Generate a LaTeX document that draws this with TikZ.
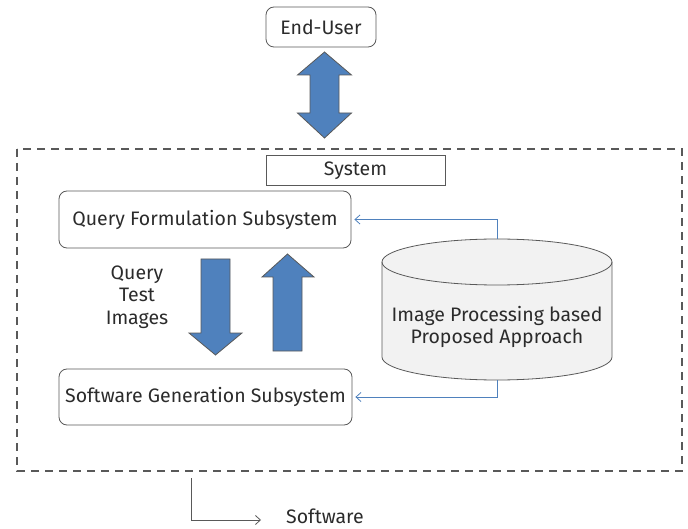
\documentclass[tikz,border=0pt]{standalone}
\usepackage{fontspec}
\setmainfont{Fira Sans}
\usetikzlibrary{arrows.meta}
\definecolor{txt}{HTML}{2B2B2B}
\definecolor{edge}{HTML}{595959}
\definecolor{blk}{HTML}{4F81BD}
\definecolor{cylfill}{HTML}{F2F2F2}
\tikzset{
  rbox/.style={draw=edge, rounded corners=8pt, line width=0.8pt, inner sep=0pt, text=txt, font=\fontsize{19.5}{22.5}\selectfont},
  plainbox/.style={draw=edge, line width=0.8pt, inner sep=0pt, text=txt, font=\fontsize{19.5}{22.5}\selectfont},
  blockarrow/.style={fill=blk, draw=edge, line width=0.8pt, line join=miter},
  link/.style={draw=blk, line width=0.8pt, -{Straight Barb[length=5pt,width=9pt]}},
  outlink/.style={draw=edge, line width=0.8pt, -{Straight Barb[length=5pt,width=9pt]}},
  lbl/.style={text=txt, font=\fontsize{19.5}{22.5}\selectfont, align=center}
}
\begin{document}
\begin{tikzpicture}[x=1pt,y=-1pt]
\useasboundingbox (0,0) rectangle (688,529);
% End-user
\node[rbox, minimum width=110pt, minimum height=40pt] (user) at (321,27) {End-User};
% double arrow
\draw[blockarrow] (324.5,52) -- (351.5,75) -- (339,75) -- (339,113) -- (351.5,113) -- (324.5,138) -- (297.5,113) -- (310,113) -- (310,75) -- (297.5,75) -- cycle;
% system dashed frame
\draw[draw=edge, line width=1.3pt, dash pattern=on 8pt off 6pt] (17,149) rectangle (682,471);
\node[plainbox, minimum width=179pt, minimum height=30pt] (sys) at (355.5,170.5) {System};
% subsystems
\node[rbox, minimum width=292pt, minimum height=57pt] (qfs) at (205,219.5) {Query Formulation Subsystem};
\node[rbox, minimum width=293pt, minimum height=56pt] (sgs) at (205.5,397) {Software Generation Subsystem};
% block arrows between subsystems
\draw[blockarrow] (201,259) -- (230,259) -- (230,333) -- (242,333) -- (215.5,355) -- (189,333) -- (201,333) -- cycle;
\draw[blockarrow] (287.5,254) -- (314,277) -- (302,277) -- (302,351) -- (273,351) -- (273,277) -- (262,277) -- cycle;
\node[lbl] (qti) at (137,297) {Query\\Test\\Images};
% cylinder
\fill[cylfill] (382,262) -- (382,357) arc[start angle=180,end angle=0,x radius=115,y radius=23] -- (612,262) arc[start angle=0,end angle=-180,x radius=115,y radius=23] -- cycle;
\draw[draw=edge, line width=0.8pt] (382,262) -- (382,357) arc[start angle=180,end angle=0,x radius=115,y radius=23] -- (612,262);
\draw[draw=edge, line width=0.8pt] (497,262) ellipse[x radius=115,y radius=23];
\coordinate (cyltop) at (497,239);
\coordinate (cylbot) at (497,380);
\node[lbl] (ipa) at (497,327) {Image Processing based\\Proposed Approach};
% blue links
\draw[link] (cyltop) -- (497,219.5) -- ([xshift=3pt]qfs.east);
\draw[link] (cylbot) -- (497,397) -- ([xshift=3pt]sgs.east);
% output
\coordinate (outstart) at (191,478);
\node[lbl, anchor=base west, inner sep=0pt] (soft) at (286,523) {Software};
\draw[outlink] (outstart) -- (191,520) -- (261,520);
\end{tikzpicture}
\end{document}
